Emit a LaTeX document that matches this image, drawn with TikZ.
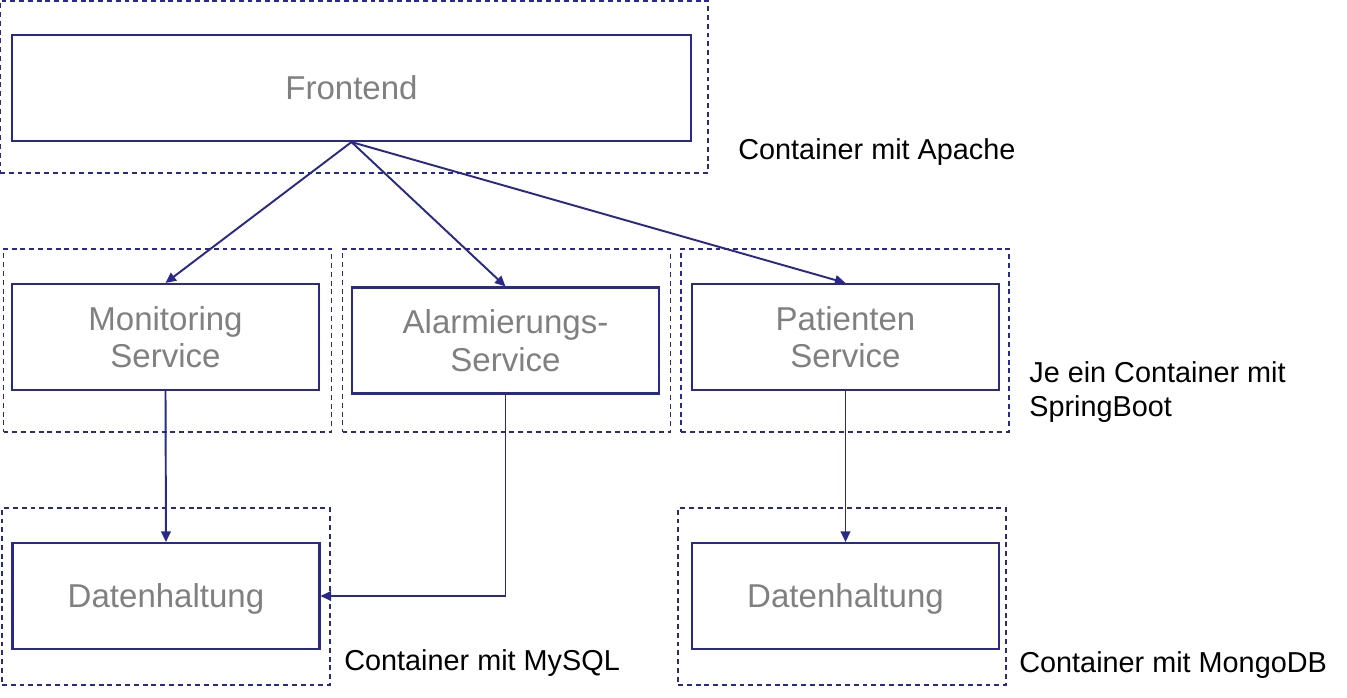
\documentclass[tikz,border=0pt]{standalone}
\usepackage{fontspec}
\setmainfont{Liberation Sans}
\usetikzlibrary{arrows.meta}

\definecolor{navy}{RGB}{41,41,135}
\definecolor{greytext}{RGB}{128,128,128}

\tikzstyle{service}=[draw=navy,line width=1.2pt,rectangle,minimum width=6.14cm,minimum height=2.12cm,inner sep=0pt,text depth=0pt,align=center,text=greytext,font=\fontsize{18.8}{21.5}\selectfont]
\tikzstyle{container}=[draw=navy,line width=1pt,dash pattern=on 2.8pt off 2.2pt,rectangle,inner sep=0pt]
\tikzstyle{call} = [draw=navy,line width=1.1pt,-{Triangle[length=6pt,width=5.5pt]}]
\tikzstyle{note} = [anchor=west,inner sep=0pt,align=left,font=\fontsize{16.4}{19.8}\selectfont]
\newcommand{\ctwidth}{6.56}

\begin{document}
\begin{tikzpicture}
    \useasboundingbox (0,0) rectangle (26.94,13.94);
    % First the dashed containers
    \node[container, minimum width=14.16cm, minimum height=3.44cm] (apache) at (7.08,12.2) {};
    \foreach \pos/\name/\h in {{(3.35,7.13)/springa/3.66}, {(10.13,7.13)/springb/3.66}, {(16.9,7.13)/springc/3.66},
                               {(3.32,2.01)/mysql/3.54}, {(16.84,2.01)/mongo/3.54}}
        \node[container, minimum width=\ctwidth cm, minimum height=\h cm] (\name) at \pos {};
    % Then the boxes inside them
    \node[service, minimum width=13.58cm] (frontend) at (7.03,12.18) {Frontend};
    \foreach \pos/\name/\txt in {{(3.31,7.2)/monitoring/{Monitoring\\Service}}, {(10.11,7.13)/alarm/{Alarmierungs-\\Service}},
                                 {(16.91,7.2)/patient/{Patienten\\Service}}, {(3.32,2.02)/dbsql/{Datenhaltung}},
                                 {(16.91,2.02)/dbmongo/{Datenhaltung}}}
        \node[service] (\name) at \pos {\txt};
    % Notes beside the containers
    \node[note] (apachenote) at (14.76,10.90) {Container mit Apache};
    \node[note] (springnote) at (20.58,6.10) {Je ein Container mit\\SpringBoot};
    \node[note] (mysqlnote) at (6.88,0.68) {Container mit MySQL};
    \node[note] (mongonote) at (20.38,0.64) {Container mit MongoDB};
    % Connect the boxes
    \foreach \source/ \dest in {frontend/monitoring,frontend/alarm,frontend/patient,monitoring/dbsql,patient/dbmongo}
        \path[call] (\source.south) -- (\dest.north);
    \path[call] (alarm.south) |- (dbsql.east);
\end{tikzpicture}
\end{document}
